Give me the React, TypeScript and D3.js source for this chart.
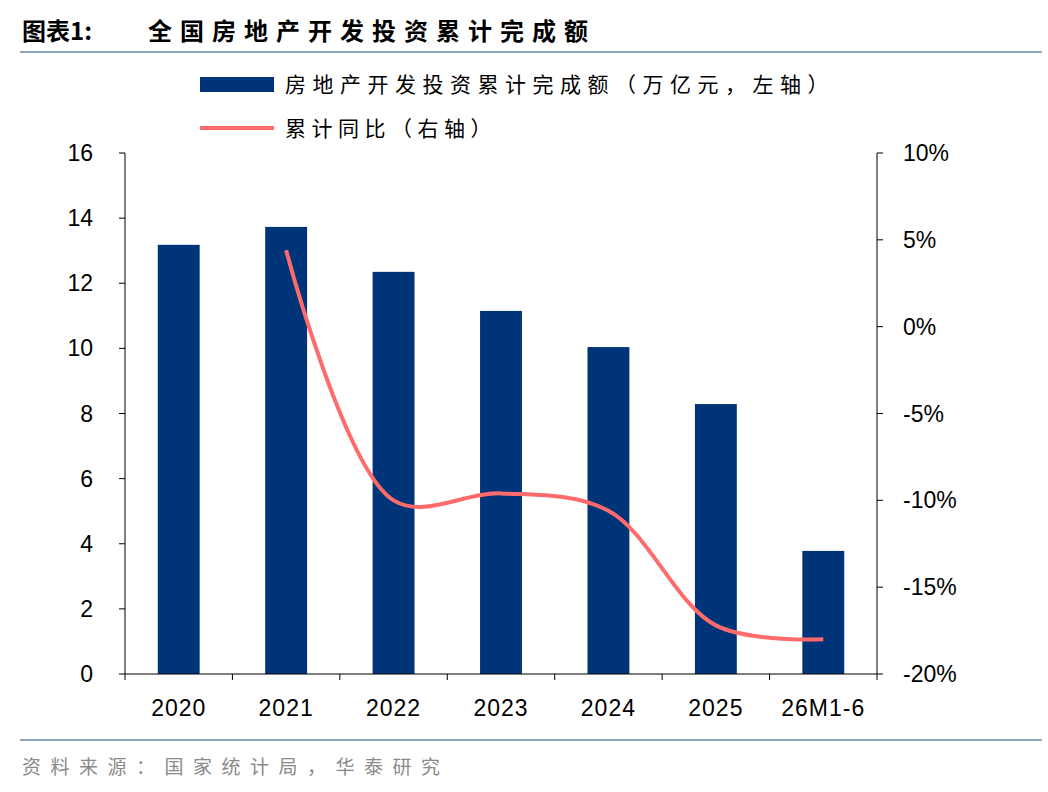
import React from 'react';
import * as d3 from 'd3';

const categories = ['2020', '2021', '2022', '2023', '2024', '2025', '26M1-6'];
const investment = [13.18, 13.73, 12.35, 11.15, 10.04, 8.29, 3.78];
const yoy: (number | null)[] = [null, 4.4, -10.0, -9.6, -10.6, -17.2, -18.0];
const leftTicks = [0, 2, 4, 6, 8, 10, 12, 14, 16];
const rightTicks = [10, 5, 0, -5, -10, -15, -20];

const W = 1048, H = 792;
const left = 125, right = 877, top = 153, bottom = 674;
const font = '"Noto Sans CJK SC", sans-serif';
const numFont = 'Arial, "Liberation Sans", sans-serif';

export default function App() {
  const x = d3.scaleBand().domain(categories).range([left, right]).paddingInner(0.61).paddingOuter(0.305);
  const band = (right - left) / categories.length;
  const yL = d3.scaleLinear().domain([0, 16]).range([bottom, top]);
  const yR = d3.scaleLinear().domain([-20, 10]).range([bottom, top]);
  const pts = categories
    .map((c, i) => [x(c)! + x.bandwidth() / 2, yoy[i]] as [number, number | null])
    .filter(p => p[1] !== null)
    .map(p => [p[0], yR(p[1] as number)] as [number, number]);
  const line = d3.line().curve(d3.curveCatmullRom.alpha(0.5))(pts) || '';

  return (
    <svg width={W} height={H} style={{ position: 'absolute', left: 0, top: 0, background: '#fff' }}>
      <text x={22} y={40} fontFamily={font} fontSize={24} fontWeight="bold" fill="#000">图表1:</text>
      <text x={148} y={40} fontFamily={font} fontSize={24} fontWeight="bold" fill="#000" letterSpacing={8}>全国房地产开发投资累计完成额</text>
      <line x1={20} x2={1042} y1={52} y2={52} stroke="#8EA9C1" strokeWidth={2} />
      <line x1={20} x2={1042} y1={740} y2={740} stroke="#8EA9C1" strokeWidth={2} />
      <text x={22} y={774} fontFamily={font} fontSize={19} fill="#8a8a8a" letterSpacing={9.5}>资料来源：国家统计局，华泰研究</text>

      {/* legend */}
      <rect x={200} y={77} width={74} height={15} fill="#003478" />
      <text x={285} y={92} fontFamily={font} fontSize={21} letterSpacing={6.5}>房地产开发投资累计完成额（万亿元，左轴）</text>
      <line x1={200} x2={274} y1={128} y2={128} stroke="#FF6B6B" strokeWidth={4} />
      <text x={285} y={136} fontFamily={font} fontSize={21} letterSpacing={5.5}>累计同比（右轴）</text>

      {categories.map((c, i) => (
        <rect key={c} x={x(c)} y={yL(investment[i])} width={x.bandwidth()} height={bottom - yL(investment[i])} fill="#003478" />
      ))}
      <path d={line} fill="none" stroke="#FF6B6B" strokeWidth={4} />

      {/* left axis */}
      <line x1={left} x2={left} y1={top} y2={bottom} stroke="#000" />
      {leftTicks.map(t => (
        <g key={t}>
          <line x1={left - 6} x2={left} y1={yL(t)} y2={yL(t)} stroke="#000" />
          <text x={left - 32} y={yL(t) + 8} textAnchor="end" fontFamily={numFont} fontSize={23}>{t}</text>
        </g>
      ))}
      {/* right axis */}
      <line x1={right} x2={right} y1={top} y2={bottom} stroke="#000" />
      {rightTicks.map(t => (
        <g key={t}>
          <line x1={right} x2={right + 6} y1={yR(t)} y2={yR(t)} stroke="#000" />
          <text x={right + 26} y={yR(t) + 8} fontFamily={numFont} fontSize={23}>{t}%</text>
        </g>
      ))}
      {/* bottom axis */}
      <line x1={left} x2={right} y1={bottom} y2={bottom} stroke="#000" />
      {d3.range(categories.length + 1).map(i => (
        <line key={i} x1={left + i * band} x2={left + i * band} y1={bottom} y2={bottom + 6} stroke="#000" />
      ))}
      {categories.map(c => (
        <text key={c} x={x(c)! + x.bandwidth() / 2} y={bottom + 42} textAnchor="middle" fontFamily={numFont} fontSize={23} letterSpacing={1}>{c}</text>
      ))}
    </svg>
  );
}
